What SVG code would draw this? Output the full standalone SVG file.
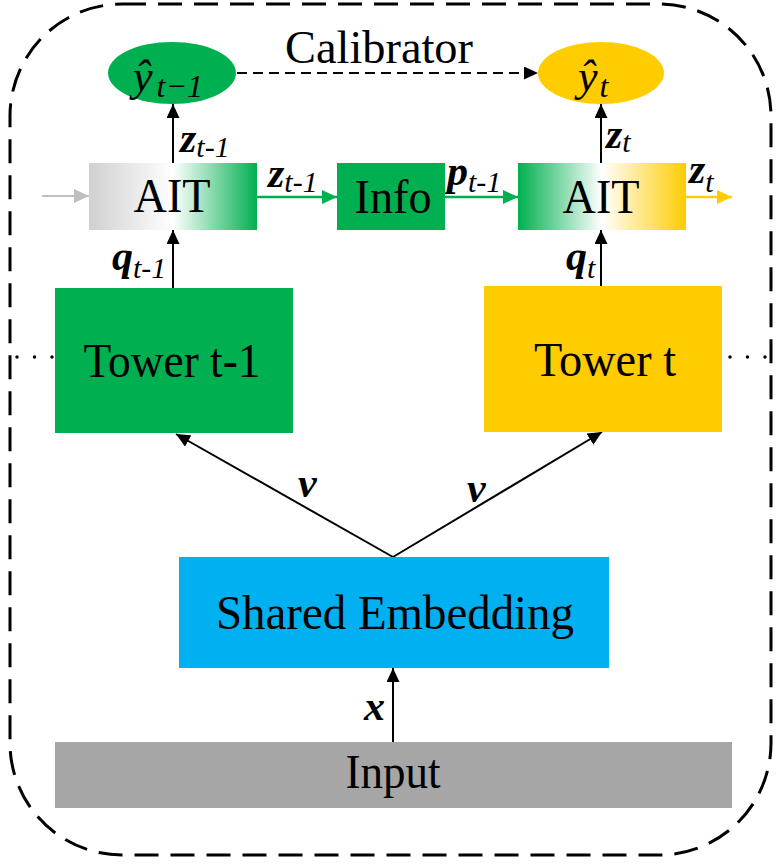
<svg xmlns="http://www.w3.org/2000/svg" width="776" height="866" viewBox="0 0 776 866">
<style>
.t{font-family:"Liberation Serif","Times New Roman",serif;fill:#000}
.big{font-size:48px}
.lbl{font-size:42px;font-weight:bold;font-style:italic}
.sub{font-size:30px;font-weight:normal;font-style:italic}
.conn{stroke:#000;stroke-width:2;fill:none}
</style>
<defs>
<linearGradient id="gL" x1="0" y1="0" x2="1" y2="0">
<stop offset="0" stop-color="#d0d0d0"/>
<stop offset="0.5" stop-color="#ffffff"/>
<stop offset="1" stop-color="#00b050"/>
</linearGradient>
<linearGradient id="gR" x1="0" y1="0" x2="1" y2="0">
<stop offset="0" stop-color="#00b050"/>
<stop offset="0.5" stop-color="#ffffff"/>
<stop offset="1" stop-color="#ffcc00"/>
</linearGradient>
<marker id="aB" markerUnits="userSpaceOnUse" markerWidth="14" markerHeight="13" refX="14" refY="6.5" orient="auto"><path d="M0,0 L14,6.5 L0,13 z" fill="#000"/></marker>
<marker id="aG" markerUnits="userSpaceOnUse" markerWidth="15" markerHeight="14" refX="15" refY="7" orient="auto"><path d="M0,0 L15,7 L0,14 z" fill="#00b050"/></marker>
<marker id="aY" markerUnits="userSpaceOnUse" markerWidth="15" markerHeight="14" refX="15" refY="7" orient="auto"><path d="M0,0 L15,7 L0,14 z" fill="#ffcc00"/></marker>
<marker id="aGr" markerUnits="userSpaceOnUse" markerWidth="15" markerHeight="14" refX="15" refY="7" orient="auto"><path d="M0,0 L15,7 L0,14 z" fill="#bfbfbf"/></marker>
</defs>
<rect id="frame" x="10" y="4" width="761" height="851" rx="112" ry="112" fill="none" stroke="#000" stroke-width="3" stroke-dasharray="24 12"/>

<g id="connectors">
<line class="conn" x1="173" y1="163" x2="173" y2="104" marker-end="url(#aB)"/>
<line class="conn" x1="173" y1="288" x2="173" y2="230" marker-end="url(#aB)"/>
<line class="conn" x1="601" y1="163" x2="601" y2="104" marker-end="url(#aB)"/>
<line class="conn" x1="601" y1="286" x2="601" y2="230" marker-end="url(#aB)"/>
<line class="conn" x1="393" y1="742" x2="393" y2="668" marker-end="url(#aB)"/>
<line class="conn" x1="393" y1="557" x2="176" y2="434" marker-end="url(#aB)"/>
<line class="conn" x1="393" y1="557" x2="602" y2="432" marker-end="url(#aB)"/>
<line x1="42" y1="196" x2="89" y2="196" stroke="#bfbfbf" stroke-width="2" marker-end="url(#aGr)"/>
<line x1="257" y1="197" x2="337" y2="197" stroke="#00b050" stroke-width="2.5" marker-end="url(#aG)"/>
<line x1="445" y1="197" x2="518" y2="197" stroke="#00b050" stroke-width="2.5" marker-end="url(#aG)"/>
<line x1="686" y1="197" x2="732" y2="197" stroke="#ffcc00" stroke-width="2.5" marker-end="url(#aY)"/>
<line class="conn" x1="237" y1="73" x2="538" y2="73" stroke-dasharray="10 6" marker-end="url(#aB)"/>
<line x1="17" y1="357" x2="53" y2="357" stroke="#000" stroke-width="3.5" stroke-linecap="round" stroke-dasharray="0 17.5"/>
<line x1="730" y1="357" x2="766" y2="357" stroke="#000" stroke-width="3.5" stroke-linecap="round" stroke-dasharray="0 17.5"/>
</g>

<g id="labels">
<text class="t" x="379" y="63" font-size="46" text-anchor="middle" textLength="188" lengthAdjust="spacingAndGlyphs">Calibrator</text>
<text class="t lbl" x="180" y="152">z<tspan class="sub" dy="5">t-1</tspan></text>
<text class="t lbl" x="268" y="187">z<tspan class="sub" dy="5">t-1</tspan></text>
<text class="t lbl" x="447" y="185">p<tspan class="sub" dy="7">t-1</tspan></text>
<text class="t lbl" x="689" y="183">z<tspan class="sub" dy="9">t</tspan></text>
<text class="t lbl" x="606" y="148">z<tspan class="sub" dy="4">t</tspan></text>
<text class="t lbl" x="112" y="270">q<tspan class="sub" dy="8">t-1</tspan></text>
<text class="t lbl" x="566" y="270">q<tspan class="sub" dy="8">t</tspan></text>
<text class="t lbl" x="298" y="497">v</text>
<text class="t lbl" x="467" y="502">v</text>
<text class="t lbl" x="364" y="720">x</text>
</g>

<g id="yhat-prev">
<ellipse cx="172" cy="73" rx="64" ry="31" fill="#00b050"/>
<text class="t" x="133" y="91" font-size="44" font-style="italic">ŷ<tspan font-size="32" dx="4" dy="6">t−1</tspan></text>
</g>
<g id="yhat-cur">
<ellipse cx="601" cy="73" rx="63" ry="31" fill="#ffcc00"/>
<text class="t" x="578" y="91" font-size="44" font-style="italic">ŷ<tspan font-size="32" dx="2" dy="6">t</tspan></text>
</g>

<g id="ait-prev">
<rect x="89" y="163" width="168" height="67" fill="url(#gL)"/>
<text class="t big" x="172" y="212" text-anchor="middle" textLength="77" lengthAdjust="spacingAndGlyphs">AIT</text>
</g>
<g id="info">
<rect x="337" y="163" width="108" height="67" fill="#00b050"/>
<text class="t big" x="393" y="213" text-anchor="middle" textLength="77" lengthAdjust="spacingAndGlyphs">Info</text>
</g>
<g id="ait-cur">
<rect x="518" y="163" width="168" height="67" fill="url(#gR)"/>
<text class="t big" x="601" y="213" text-anchor="middle" textLength="77" lengthAdjust="spacingAndGlyphs">AIT</text>
</g>

<g id="tower-prev">
<rect x="55" y="288" width="238" height="145" fill="#00b050"/>
<text class="t big" x="172" y="377" text-anchor="middle" textLength="177" lengthAdjust="spacingAndGlyphs">Tower t-1</text>
</g>
<g id="tower-cur">
<rect x="484" y="286" width="238" height="146" fill="#ffcc00"/>
<text class="t big" x="605" y="376" text-anchor="middle" textLength="142" lengthAdjust="spacingAndGlyphs">Tower t</text>
</g>

<g id="shared-embedding">
<rect x="179" y="557" width="430" height="111" fill="#00b0f0"/>
<text class="t big" x="395" y="629" text-anchor="middle" textLength="358" lengthAdjust="spacingAndGlyphs">Shared Embedding</text>
</g>
<g id="input">
<rect x="55" y="742" width="677" height="66" fill="#a6a6a6"/>
<text class="t big" x="393" y="788" text-anchor="middle" textLength="95" lengthAdjust="spacingAndGlyphs">Input</text>
</g>
</svg>
